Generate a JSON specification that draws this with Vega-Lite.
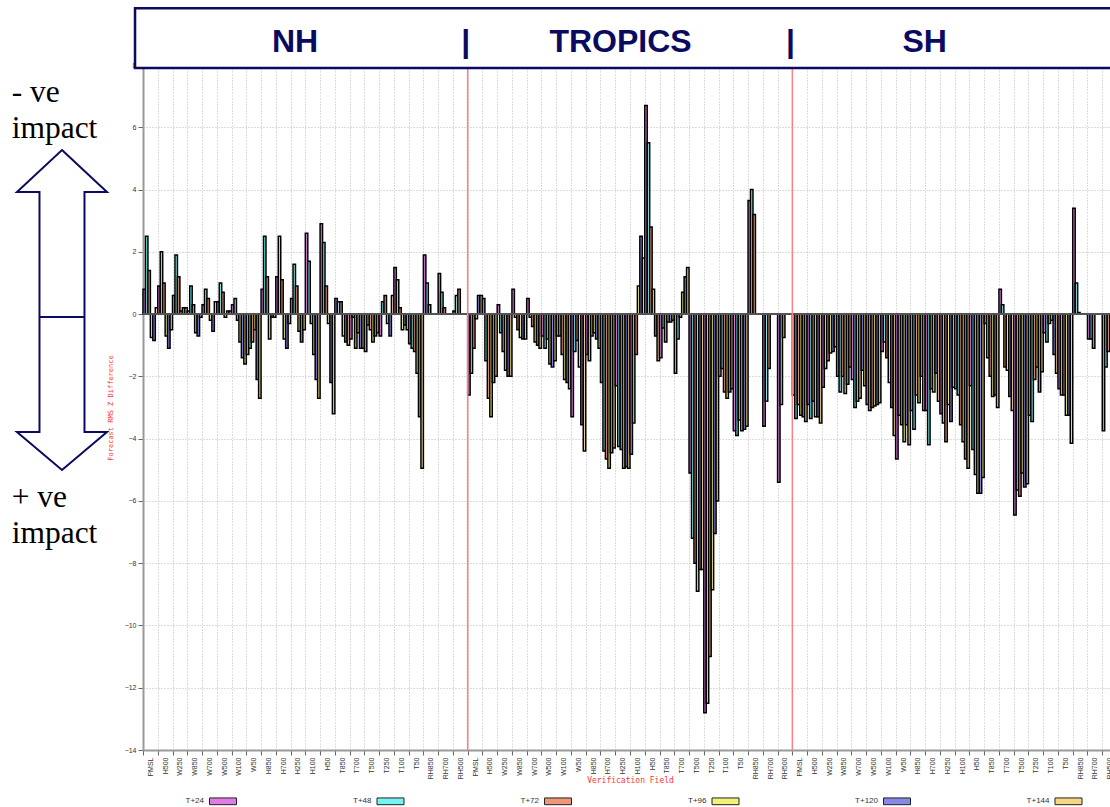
{
"$schema": "https://vega.github.io/schema/vega-lite/v6.json",
"autosize": {"type": "none"},
"width": 967,
"height": 685,
"padding": {"left": 143, "top": 65, "right": 0, "bottom": 57},
"background": "white",
"config": {"view": {"stroke": null}, "font": "Liberation Sans"},
"datasets": {
"bars": [
{"c":"NH|PMSL","l":"T+24","v":0.8},{"c":"NH|PMSL","l":"T+48","v":2.5},{"c":"NH|PMSL","l":"T+72","v":1.4},{"c":"NH|PMSL","l":"T+96","v":-0.75},{"c":"NH|PMSL","l":"T+120","v":-0.85},{"c":"NH|PMSL","l":"T+144","v":0.2},
{"c":"NH|H500","l":"T+24","v":0.9},{"c":"NH|H500","l":"T+48","v":2.0},{"c":"NH|H500","l":"T+72","v":1.0},{"c":"NH|H500","l":"T+96","v":-0.7},{"c":"NH|H500","l":"T+120","v":-1.1},{"c":"NH|H500","l":"T+144","v":-0.5},
{"c":"NH|W250","l":"T+24","v":0.6},{"c":"NH|W250","l":"T+48","v":1.9},{"c":"NH|W250","l":"T+72","v":1.2},{"c":"NH|W250","l":"T+96","v":0.1},{"c":"NH|W250","l":"T+120","v":0.2},{"c":"NH|W250","l":"T+144","v":0.2},
{"c":"NH|W850","l":"T+24","v":0.1},{"c":"NH|W850","l":"T+48","v":0.9},{"c":"NH|W850","l":"T+72","v":0.3},{"c":"NH|W850","l":"T+96","v":-0.6},{"c":"NH|W850","l":"T+120","v":-0.7},{"c":"NH|W850","l":"T+144","v":-0.1},
{"c":"NH|W700","l":"T+24","v":0.3},{"c":"NH|W700","l":"T+48","v":0.8},{"c":"NH|W700","l":"T+72","v":0.5},{"c":"NH|W700","l":"T+96","v":-0.2},{"c":"NH|W700","l":"T+120","v":-0.55},{"c":"NH|W700","l":"T+144","v":0.4},
{"c":"NH|W500","l":"T+24","v":0.4},{"c":"NH|W500","l":"T+48","v":1.0},{"c":"NH|W500","l":"T+72","v":0.7},{"c":"NH|W500","l":"T+96","v":-0.1},{"c":"NH|W500","l":"T+120","v":0.1},{"c":"NH|W500","l":"T+144","v":0.1},
{"c":"NH|W100","l":"T+24","v":0.3},{"c":"NH|W100","l":"T+48","v":0.5},{"c":"NH|W100","l":"T+72","v":-0.2},{"c":"NH|W100","l":"T+96","v":-0.9},{"c":"NH|W100","l":"T+120","v":-1.4},{"c":"NH|W100","l":"T+144","v":-1.6},
{"c":"NH|W50","l":"T+24","v":-1.3},{"c":"NH|W50","l":"T+48","v":-1.1},{"c":"NH|W50","l":"T+72","v":-0.9},{"c":"NH|W50","l":"T+96","v":-0.5},{"c":"NH|W50","l":"T+120","v":-2.1},{"c":"NH|W50","l":"T+144","v":-2.7},
{"c":"NH|H850","l":"T+24","v":0.8},{"c":"NH|H850","l":"T+48","v":2.5},{"c":"NH|H850","l":"T+72","v":1.2},{"c":"NH|H850","l":"T+96","v":-0.8},{"c":"NH|H850","l":"T+120","v":-0.1},{"c":"NH|H850","l":"T+144","v":-0.1},
{"c":"NH|H700","l":"T+24","v":1.2},{"c":"NH|H700","l":"T+48","v":2.5},{"c":"NH|H700","l":"T+72","v":1.1},{"c":"NH|H700","l":"T+96","v":-0.8},{"c":"NH|H700","l":"T+120","v":-1.1},{"c":"NH|H700","l":"T+144","v":-0.3},
{"c":"NH|H250","l":"T+24","v":0.5},{"c":"NH|H250","l":"T+48","v":1.6},{"c":"NH|H250","l":"T+72","v":0.9},{"c":"NH|H250","l":"T+96","v":-0.55},{"c":"NH|H250","l":"T+120","v":-0.9},{"c":"NH|H250","l":"T+144","v":-0.5},
{"c":"NH|H100","l":"T+24","v":2.6},{"c":"NH|H100","l":"T+48","v":1.7},{"c":"NH|H100","l":"T+72","v":-0.3},{"c":"NH|H100","l":"T+96","v":-1.3},{"c":"NH|H100","l":"T+120","v":-2.1},{"c":"NH|H100","l":"T+144","v":-2.7},
{"c":"NH|H50","l":"T+24","v":2.9},{"c":"NH|H50","l":"T+48","v":2.3},{"c":"NH|H50","l":"T+72","v":0.9},{"c":"NH|H50","l":"T+96","v":-0.3},{"c":"NH|H50","l":"T+120","v":-2.2},{"c":"NH|H50","l":"T+144","v":-3.2},
{"c":"NH|T850","l":"T+24","v":0.5},{"c":"NH|T850","l":"T+48","v":0.4},{"c":"NH|T850","l":"T+72","v":0.4},{"c":"NH|T850","l":"T+96","v":-0.7},{"c":"NH|T850","l":"T+120","v":-0.9},{"c":"NH|T850","l":"T+144","v":-1.0},
{"c":"NH|T700","l":"T+24","v":-0.8},{"c":"NH|T700","l":"T+48","v":-0.1},{"c":"NH|T700","l":"T+72","v":-1.1},{"c":"NH|T700","l":"T+96","v":-0.6},{"c":"NH|T700","l":"T+120","v":-1.1},{"c":"NH|T700","l":"T+144","v":-1.1},
{"c":"NH|T500","l":"T+24","v":-1.2},{"c":"NH|T500","l":"T+48","v":-0.35},{"c":"NH|T500","l":"T+72","v":-0.5},{"c":"NH|T500","l":"T+96","v":-0.9},{"c":"NH|T500","l":"T+120","v":-0.7},{"c":"NH|T500","l":"T+144","v":-0.6},
{"c":"NH|T250","l":"T+24","v":-0.7},{"c":"NH|T250","l":"T+48","v":0.4},{"c":"NH|T250","l":"T+72","v":0.6},{"c":"NH|T250","l":"T+96","v":-0.3},{"c":"NH|T250","l":"T+120","v":-0.7},{"c":"NH|T250","l":"T+144","v":0.6},
{"c":"NH|T100","l":"T+24","v":1.5},{"c":"NH|T100","l":"T+48","v":1.1},{"c":"NH|T100","l":"T+72","v":0.2},{"c":"NH|T100","l":"T+96","v":-0.5},{"c":"NH|T100","l":"T+120","v":-0.35},{"c":"NH|T100","l":"T+144","v":-0.5},
{"c":"NH|T50","l":"T+24","v":-0.95},{"c":"NH|T50","l":"T+48","v":-1.1},{"c":"NH|T50","l":"T+72","v":-1.2},{"c":"NH|T50","l":"T+96","v":-1.9},{"c":"NH|T50","l":"T+120","v":-3.3},{"c":"NH|T50","l":"T+144","v":-4.95},
{"c":"NH|RH850","l":"T+24","v":1.9},{"c":"NH|RH850","l":"T+48","v":1.0},{"c":"NH|RH850","l":"T+72","v":0.3},
{"c":"NH|RH700","l":"T+24","v":1.3},{"c":"NH|RH700","l":"T+48","v":0.7},{"c":"NH|RH700","l":"T+72","v":0.2},
{"c":"NH|RH500","l":"T+24","v":0.1},{"c":"NH|RH500","l":"T+48","v":0.6},{"c":"NH|RH500","l":"T+72","v":0.8},
{"c":"TR|PMSL","l":"T+24","v":-2.6},{"c":"TR|PMSL","l":"T+48","v":-1.9},{"c":"TR|PMSL","l":"T+72","v":-1.1},{"c":"TR|PMSL","l":"T+96","v":-0.15},{"c":"TR|PMSL","l":"T+120","v":0.6},{"c":"TR|PMSL","l":"T+144","v":0.6},
{"c":"TR|H500","l":"T+24","v":0.5},{"c":"TR|H500","l":"T+48","v":-1.5},{"c":"TR|H500","l":"T+72","v":-2.7},{"c":"TR|H500","l":"T+96","v":-3.3},{"c":"TR|H500","l":"T+120","v":-2.2},{"c":"TR|H500","l":"T+144","v":-2.0},
{"c":"TR|W250","l":"T+24","v":0.3},{"c":"TR|W250","l":"T+48","v":-0.6},{"c":"TR|W250","l":"T+72","v":-1.2},{"c":"TR|W250","l":"T+96","v":-1.8},{"c":"TR|W250","l":"T+120","v":-2.0},{"c":"TR|W250","l":"T+144","v":-2.0},
{"c":"TR|W850","l":"T+24","v":0.8},{"c":"TR|W850","l":"T+48","v":-0.1},{"c":"TR|W850","l":"T+72","v":-0.5},{"c":"TR|W850","l":"T+96","v":-0.75},{"c":"TR|W850","l":"T+120","v":-0.8},{"c":"TR|W850","l":"T+144","v":-0.8},
{"c":"TR|W700","l":"T+24","v":0.5},{"c":"TR|W700","l":"T+48","v":-0.1},{"c":"TR|W700","l":"T+72","v":-0.4},{"c":"TR|W700","l":"T+96","v":-0.9},{"c":"TR|W700","l":"T+120","v":-1.0},{"c":"TR|W700","l":"T+144","v":-1.1},
{"c":"TR|W500","l":"T+24","v":-0.7},{"c":"TR|W500","l":"T+48","v":-1.1},{"c":"TR|W500","l":"T+72","v":-0.8},{"c":"TR|W500","l":"T+96","v":-1.6},{"c":"TR|W500","l":"T+120","v":-1.7},{"c":"TR|W500","l":"T+144","v":-1.5},
{"c":"TR|W100","l":"T+24","v":-0.7},{"c":"TR|W100","l":"T+48","v":-0.7},{"c":"TR|W100","l":"T+72","v":-1.3},{"c":"TR|W100","l":"T+96","v":-2.1},{"c":"TR|W100","l":"T+120","v":-2.2},{"c":"TR|W100","l":"T+144","v":-2.4},
{"c":"TR|W50","l":"T+24","v":-3.3},{"c":"TR|W50","l":"T+48","v":-1.2},{"c":"TR|W50","l":"T+72","v":-0.85},{"c":"TR|W50","l":"T+96","v":-1.7},{"c":"TR|W50","l":"T+120","v":-3.55},{"c":"TR|W50","l":"T+144","v":-4.4},
{"c":"TR|H850","l":"T+24","v":-1.3},{"c":"TR|H850","l":"T+48","v":-1.5},{"c":"TR|H850","l":"T+72","v":-0.7},{"c":"TR|H850","l":"T+96","v":-0.6},{"c":"TR|H850","l":"T+120","v":-0.8},{"c":"TR|H850","l":"T+144","v":-1.1},
{"c":"TR|H700","l":"T+24","v":-2.2},{"c":"TR|H700","l":"T+48","v":-4.4},{"c":"TR|H700","l":"T+72","v":-4.65},{"c":"TR|H700","l":"T+96","v":-4.95},{"c":"TR|H700","l":"T+120","v":-4.45},{"c":"TR|H700","l":"T+144","v":-4.3},
{"c":"TR|H250","l":"T+24","v":-2.3},{"c":"TR|H250","l":"T+48","v":-4.25},{"c":"TR|H250","l":"T+72","v":-4.35},{"c":"TR|H250","l":"T+96","v":-4.95},{"c":"TR|H250","l":"T+120","v":-4.9},{"c":"TR|H250","l":"T+144","v":-4.95},
{"c":"TR|H100","l":"T+24","v":-4.5},{"c":"TR|H100","l":"T+48","v":-3.5},{"c":"TR|H100","l":"T+72","v":-1.3},{"c":"TR|H100","l":"T+96","v":0.9},{"c":"TR|H100","l":"T+120","v":2.5},{"c":"TR|H100","l":"T+144","v":1.8},
{"c":"TR|H50","l":"T+24","v":6.7},{"c":"TR|H50","l":"T+48","v":5.5},{"c":"TR|H50","l":"T+72","v":2.8},{"c":"TR|H50","l":"T+96","v":0.8},{"c":"TR|H50","l":"T+120","v":-0.7},{"c":"TR|H50","l":"T+144","v":-1.5},
{"c":"TR|T850","l":"T+24","v":-1.4},{"c":"TR|T850","l":"T+48","v":-0.45},{"c":"TR|T850","l":"T+72","v":-0.9},{"c":"TR|T850","l":"T+96","v":-0.25},{"c":"TR|T850","l":"T+120","v":-0.25},{"c":"TR|T850","l":"T+144","v":-0.2},
{"c":"TR|T700","l":"T+24","v":-1.9},{"c":"TR|T700","l":"T+48","v":-0.8},{"c":"TR|T700","l":"T+72","v":-0.1},{"c":"TR|T700","l":"T+96","v":0.7},{"c":"TR|T700","l":"T+120","v":1.2},{"c":"TR|T700","l":"T+144","v":1.5},
{"c":"TR|T500","l":"T+24","v":-5.1},{"c":"TR|T500","l":"T+48","v":-7.2},{"c":"TR|T500","l":"T+72","v":-8.0},{"c":"TR|T500","l":"T+96","v":-8.9},{"c":"TR|T500","l":"T+120","v":-8.2},{"c":"TR|T500","l":"T+144","v":-8.2},
{"c":"TR|T250","l":"T+24","v":-12.8},{"c":"TR|T250","l":"T+48","v":-12.5},{"c":"TR|T250","l":"T+72","v":-11.0},{"c":"TR|T250","l":"T+96","v":-8.85},{"c":"TR|T250","l":"T+120","v":-7.05},{"c":"TR|T250","l":"T+144","v":-6.0},
{"c":"TR|T100","l":"T+24","v":-2.0},{"c":"TR|T100","l":"T+48","v":-1.75},{"c":"TR|T100","l":"T+72","v":-2.5},{"c":"TR|T100","l":"T+96","v":-2.7},{"c":"TR|T100","l":"T+120","v":-2.5},{"c":"TR|T100","l":"T+144","v":-2.4},
{"c":"TR|T50","l":"T+24","v":-3.75},{"c":"TR|T50","l":"T+48","v":-3.9},{"c":"TR|T50","l":"T+72","v":-3.4},{"c":"TR|T50","l":"T+96","v":-3.75},{"c":"TR|T50","l":"T+120","v":-3.7},{"c":"TR|T50","l":"T+144","v":-3.6},
{"c":"TR|RH850","l":"T+24","v":3.65},{"c":"TR|RH850","l":"T+48","v":4.0},{"c":"TR|RH850","l":"T+72","v":3.2},
{"c":"TR|RH700","l":"T+24","v":-3.6},{"c":"TR|RH700","l":"T+48","v":-2.8},{"c":"TR|RH700","l":"T+72","v":-1.75},
{"c":"TR|RH500","l":"T+24","v":-5.4},{"c":"TR|RH500","l":"T+48","v":-2.9},{"c":"TR|RH500","l":"T+72","v":-0.75},
{"c":"SH|PMSL","l":"T+24","v":-2.6},{"c":"SH|PMSL","l":"T+48","v":-3.35},{"c":"SH|PMSL","l":"T+72","v":-2.9},{"c":"SH|PMSL","l":"T+96","v":-3.25},{"c":"SH|PMSL","l":"T+120","v":-3.3},{"c":"SH|PMSL","l":"T+144","v":-3.45},
{"c":"SH|H500","l":"T+24","v":-2.9},{"c":"SH|H500","l":"T+48","v":-3.35},{"c":"SH|H500","l":"T+72","v":-2.8},{"c":"SH|H500","l":"T+96","v":-3.3},{"c":"SH|H500","l":"T+120","v":-3.3},{"c":"SH|H500","l":"T+144","v":-3.5},
{"c":"SH|W250","l":"T+24","v":-2.35},{"c":"SH|W250","l":"T+48","v":-1.75},{"c":"SH|W250","l":"T+72","v":-1.5},{"c":"SH|W250","l":"T+96","v":-1.25},{"c":"SH|W250","l":"T+120","v":-1.2},{"c":"SH|W250","l":"T+144","v":-1.05},
{"c":"SH|W850","l":"T+24","v":-2.0},{"c":"SH|W850","l":"T+48","v":-2.5},{"c":"SH|W850","l":"T+72","v":-2.0},{"c":"SH|W850","l":"T+96","v":-2.55},{"c":"SH|W850","l":"T+120","v":-2.25},{"c":"SH|W850","l":"T+144","v":-1.7},
{"c":"SH|W700","l":"T+24","v":-2.1},{"c":"SH|W700","l":"T+48","v":-3.0},{"c":"SH|W700","l":"T+72","v":-2.8},{"c":"SH|W700","l":"T+96","v":-2.7},{"c":"SH|W700","l":"T+120","v":-1.8},{"c":"SH|W700","l":"T+144","v":-2.3},
{"c":"SH|W500","l":"T+24","v":-2.9},{"c":"SH|W500","l":"T+48","v":-3.1},{"c":"SH|W500","l":"T+72","v":-3.0},{"c":"SH|W500","l":"T+96","v":-2.95},{"c":"SH|W500","l":"T+120","v":-2.9},{"c":"SH|W500","l":"T+144","v":-2.85},
{"c":"SH|W100","l":"T+24","v":-1.2},{"c":"SH|W100","l":"T+48","v":-0.9},{"c":"SH|W100","l":"T+72","v":-1.4},{"c":"SH|W100","l":"T+96","v":-2.2},{"c":"SH|W100","l":"T+120","v":-3.0},{"c":"SH|W100","l":"T+144","v":-3.9},
{"c":"SH|W50","l":"T+24","v":-4.65},{"c":"SH|W50","l":"T+48","v":-3.25},{"c":"SH|W50","l":"T+72","v":-3.55},{"c":"SH|W50","l":"T+96","v":-4.1},{"c":"SH|W50","l":"T+120","v":-3.55},{"c":"SH|W50","l":"T+144","v":-4.2},
{"c":"SH|H850","l":"T+24","v":-3.1},{"c":"SH|H850","l":"T+48","v":-3.7},{"c":"SH|H850","l":"T+72","v":-2.6},{"c":"SH|H850","l":"T+96","v":-2.85},{"c":"SH|H850","l":"T+120","v":-2.0},{"c":"SH|H850","l":"T+144","v":-3.1},
{"c":"SH|H700","l":"T+24","v":-3.1},{"c":"SH|H700","l":"T+48","v":-4.2},{"c":"SH|H700","l":"T+72","v":-2.4},{"c":"SH|H700","l":"T+96","v":-2.5},{"c":"SH|H700","l":"T+120","v":-1.9},{"c":"SH|H700","l":"T+144","v":-2.8},
{"c":"SH|H250","l":"T+24","v":-3.2},{"c":"SH|H250","l":"T+48","v":-3.5},{"c":"SH|H250","l":"T+72","v":-4.1},{"c":"SH|H250","l":"T+96","v":-2.9},{"c":"SH|H250","l":"T+120","v":-3.45},{"c":"SH|H250","l":"T+144","v":-2.35},
{"c":"SH|H100","l":"T+24","v":-2.4},{"c":"SH|H100","l":"T+48","v":-2.6},{"c":"SH|H100","l":"T+72","v":-3.55},{"c":"SH|H100","l":"T+96","v":-4.1},{"c":"SH|H100","l":"T+120","v":-4.65},{"c":"SH|H100","l":"T+144","v":-4.95},
{"c":"SH|H50","l":"T+24","v":-2.3},{"c":"SH|H50","l":"T+48","v":-4.35},{"c":"SH|H50","l":"T+72","v":-5.15},{"c":"SH|H50","l":"T+96","v":-5.75},{"c":"SH|H50","l":"T+120","v":-5.75},{"c":"SH|H50","l":"T+144","v":-5.25},
{"c":"SH|T850","l":"T+24","v":-0.3},{"c":"SH|T850","l":"T+48","v":-1.4},{"c":"SH|T850","l":"T+72","v":-2.0},{"c":"SH|T850","l":"T+96","v":-2.65},{"c":"SH|T850","l":"T+120","v":-2.6},{"c":"SH|T850","l":"T+144","v":-3.0},
{"c":"SH|T700","l":"T+24","v":0.8},{"c":"SH|T700","l":"T+48","v":0.3},{"c":"SH|T700","l":"T+72","v":-1.7},{"c":"SH|T700","l":"T+96","v":-1.8},{"c":"SH|T700","l":"T+120","v":-2.65},{"c":"SH|T700","l":"T+144","v":-3.1},
{"c":"SH|T500","l":"T+24","v":-6.45},{"c":"SH|T500","l":"T+48","v":-5.65},{"c":"SH|T500","l":"T+72","v":-5.85},{"c":"SH|T500","l":"T+96","v":-5.1},{"c":"SH|T500","l":"T+120","v":-5.55},{"c":"SH|T500","l":"T+144","v":-5.45},
{"c":"SH|T250","l":"T+24","v":-3.25},{"c":"SH|T250","l":"T+48","v":-3.45},{"c":"SH|T250","l":"T+72","v":-2.1},{"c":"SH|T250","l":"T+96","v":-1.7},{"c":"SH|T250","l":"T+120","v":-2.5},{"c":"SH|T250","l":"T+144","v":-1.85},
{"c":"SH|T100","l":"T+24","v":-0.6},{"c":"SH|T100","l":"T+48","v":-0.9},{"c":"SH|T100","l":"T+72","v":-0.3},{"c":"SH|T100","l":"T+96","v":-0.2},{"c":"SH|T100","l":"T+120","v":-1.3},{"c":"SH|T100","l":"T+144","v":-1.9},
{"c":"SH|T50","l":"T+24","v":-2.4},{"c":"SH|T50","l":"T+48","v":-2.6},{"c":"SH|T50","l":"T+72","v":-2.6},{"c":"SH|T50","l":"T+96","v":-3.25},{"c":"SH|T50","l":"T+120","v":-3.25},{"c":"SH|T50","l":"T+144","v":-4.15},
{"c":"SH|RH850","l":"T+24","v":3.4},{"c":"SH|RH850","l":"T+48","v":1.0},{"c":"SH|RH850","l":"T+72","v":0.05},
{"c":"SH|RH700","l":"T+24","v":-0.8},{"c":"SH|RH700","l":"T+48","v":-0.8},{"c":"SH|RH700","l":"T+72","v":-1.1},
{"c":"SH|RH500","l":"T+24","v":-3.75},{"c":"SH|RH500","l":"T+48","v":-1.7},{"c":"SH|RH500","l":"T+72","v":-1.2}
],
"regions": [{"hx": 22}, {"hx": 44}],
"box": [{"x1": -0.54, "x2": 67, "y1": 9.821, "y2": 7.904}],
"heads": [
{"t": "NH", "hx": 10.3, "hy": 8.427},
{"t": "|", "hx": 21.86, "hy": 8.427},
{"t": "TROPICS", "hx": 32.36, "hy": 8.427},
{"t": "|", "hx": 43.88, "hy": 8.427},
{"t": "SH", "hx": 52.97, "hy": 8.427}
],
"side": [
{"t": "- ve", "hx": -8.9, "hy": 6.821},
{"t": "impact", "hx": -8.9, "hy": 5.646},
{"t": "+ ve", "hx": -8.9, "hy": -6.196},
{"t": "impact", "hx": -8.9, "hy": -7.352}
],
"arrow": [{"hx": -5.49, "hy": 0.131}]
},
"layer": [
{
"data": {"name": "bars"},
"layer": [
{
"mark": {"type": "bar", "stroke": "#000000", "strokeWidth": 1.5},
"encoding": {
"x": {"field": "c", "type": "nominal", "sort": null,
"scale": {"paddingInner": 0, "paddingOuter": 0, "range": [0, 974]},
"axis": {"title": "Verification Field", "labelExpr": "split(datum.value, '|')[1]", "labelAngle": -90, "labelFontSize": 7, "labelFont": "Liberation Sans", "labelColor": "#333333", "labelPadding": 2, "labelOverlap": false, "tickBand": "extent", "tickSize": 5, "tickColor": "#666666", "domainColor": "#999999", "domainWidth": 2, "grid": true, "gridDash": [1, 2], "gridColor": "#bbbbbb", "titleFont": "DejaVu Sans Mono", "titleFontSize": 8, "titleColor": "#ff3333", "titleFontWeight": "normal", "titleY": 26, "titleBaseline": "top"}},
"xOffset": {"field": "l", "type": "nominal", "sort": ["T+24", "T+48", "T+72", "T+96", "T+120", "T+144"], "scale": {"paddingInner": 0, "paddingOuter": 0}},
"y": {"field": "v", "type": "quantitative", "scale": {"domain": [-14, 8], "nice": false},
"axis": {"values": [-14, -12, -10, -8, -6, -4, -2, 0, 2, 4, 6, 8], "title": "Forecast RMS Z Difference", "labelFontSize": 7, "labelColor": "#333333", "tickSize": 5, "tickColor": "#666666", "labelPadding": 2, "domainColor": "#999999", "domainWidth": 2, "grid": true, "gridDash": [1, 2], "gridColor": "#bbbbbb", "titleFont": "DejaVu Sans Mono", "titleFontSize": 7, "titleColor": "#ff3333", "titleFontWeight": "normal", "titlePadding": 11}},
"color": {"field": "l", "type": "nominal",
"scale": {"domain": ["T+24", "T+48", "T+72", "T+96", "T+120", "T+144"], "range": ["#e27ae8", "#78f2f2", "#ee9675", "#f2f078", "#8888ea", "#f5d682"]},
"legend": {"title": null, "orient": "none", "legendX": 66, "legendY": 722, "direction": "horizontal", "columns": 6, "columnPadding": 113.5, "symbolType": "M-1,-0.25H1V0.25H-1Z", "symbolSize": 729, "symbolStrokeColor": "#222222", "symbolStrokeWidth": 1, "labelAlign": "right", "labelOffset": -33, "labelFontSize": 8, "labelColor": "#333333", "labelFont": "Liberation Sans"}}
}
},
{
"mark": {"type": "rule", "color": "#555555", "strokeWidth": 1.5},
"encoding": {"y": {"datum": 0}}
}
]
},
{
"layer": [
{
"data": {"name": "regions"},
"mark": {"type": "rule", "color": "#ff8080", "strokeWidth": 1.5},
"encoding": {
"x": {"field": "hx", "type": "quantitative", "scale": {"domain": [0, 66], "range": [0, 974], "nice": false, "zero": false}, "axis": null}
}
},
{
"data": {"name": "box"},
"mark": {"type": "rect", "fill": "white", "stroke": "#0a0a60", "strokeWidth": 2.5},
"encoding": {
"x": {"field": "x1", "type": "quantitative", "scale": {"domain": [0, 66], "range": [0, 974], "nice": false, "zero": false}, "axis": null},
"x2": {"field": "x2"},
"y": {"field": "y1", "type": "quantitative", "scale": {"domain": [-14, 8], "nice": false, "zero": false}, "axis": null},
"y2": {"field": "y2"}
}
},
{
"data": {"name": "heads"},
"mark": {"type": "text", "font": "Liberation Sans", "fontWeight": "bold", "fontSize": 32, "color": "#0a0a60", "align": "center", "baseline": "alphabetic"},
"encoding": {
"x": {"field": "hx", "type": "quantitative", "scale": {"domain": [0, 66], "range": [0, 974], "nice": false, "zero": false}, "axis": null},
"y": {"field": "hy", "type": "quantitative", "scale": {"domain": [-14, 8], "nice": false, "zero": false}, "axis": null},
"text": {"field": "t"}
}
},
{
"data": {"name": "side"},
"mark": {"type": "text", "font": "Liberation Serif", "fontSize": 31.5, "color": "#000000", "align": "left", "baseline": "alphabetic"},
"encoding": {
"x": {"field": "hx", "type": "quantitative", "scale": {"domain": [0, 66], "range": [0, 974], "nice": false, "zero": false}, "axis": null},
"y": {"field": "hy", "type": "quantitative", "scale": {"domain": [-14, 8], "nice": false, "zero": false}, "axis": null},
"text": {"field": "t"}
}
},
{
"data": {"name": "arrow"},
"mark": {"type": "point", "shape": "M0,-160L45,-118L22.5,-118L22.5,122L45,122L0,160L-45,122L-22.5,122L-22.5,-118L-45,-118Z M-22.5,7L22.5,7", "size": 4, "filled": true, "fill": "white", "stroke": "#0a0a60", "strokeWidth": 2, "opacity": 1, "fillOpacity": 1, "strokeOpacity": 1},
"encoding": {
"x": {"field": "hx", "type": "quantitative", "scale": {"domain": [0, 66], "range": [0, 974], "nice": false, "zero": false}, "axis": null},
"y": {"field": "hy", "type": "quantitative", "scale": {"domain": [-14, 8], "nice": false, "zero": false}, "axis": null}
}
}
]
}
],
"resolve": {"scale": {"x": "independent", "y": "independent"}, "axis": {"x": "independent", "y": "independent"}}
}
